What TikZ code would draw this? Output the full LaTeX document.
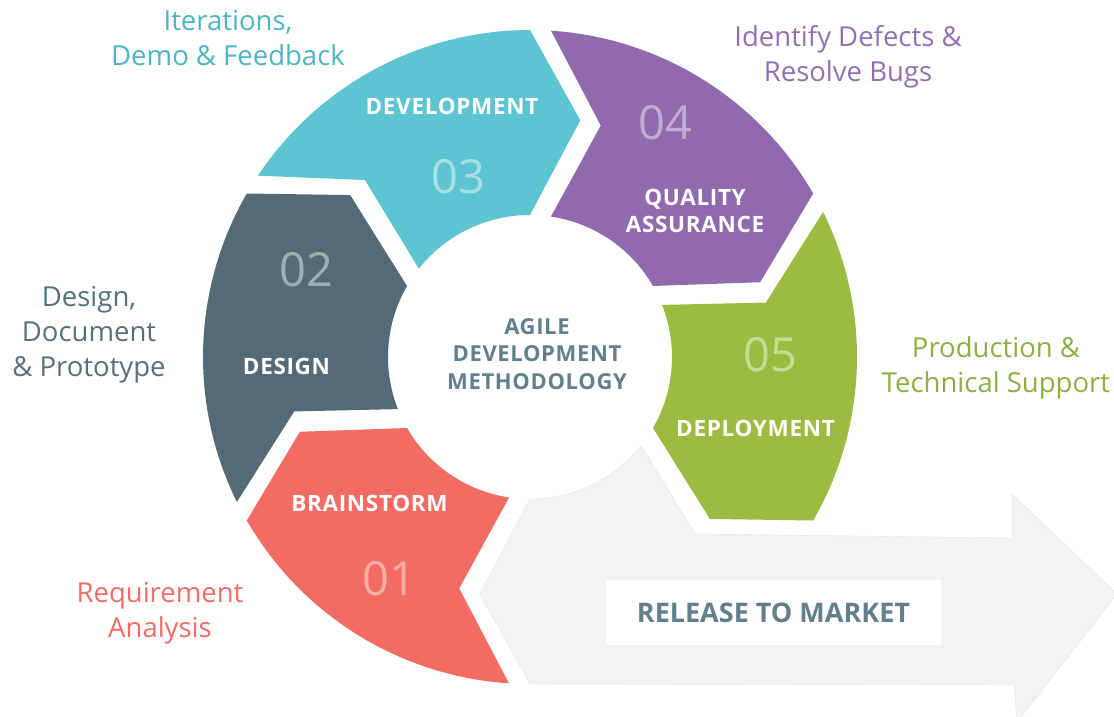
\documentclass[tikz,border=0pt]{standalone}
\usepackage{fontspec}
\setmainfont{Open Sans}
\newfontfamily\capsfont{Open Sans}[LetterSpace=3.0]
\definecolor{brainred}{HTML}{F26C63}
\definecolor{designslate}{HTML}{546B77}
\definecolor{devteal}{HTML}{5DC5D2}
\definecolor{qapurple}{HTML}{9169AD}
\definecolor{deploygreen}{HTML}{9DBB41}
\definecolor{releasegray}{HTML}{F3F3F3}
\definecolor{hubtext}{HTML}{627F8C}
\definecolor{redtext}{HTML}{F06E66}
\definecolor{slatetext}{HTML}{56707C}
\definecolor{tealtext}{HTML}{4DB5C4}
\definecolor{purpletext}{HTML}{9370AF}
\definecolor{greentext}{HTML}{8CB043}

\begin{document}
\begin{tikzpicture}
      [x=1pt, y=-1pt,
       steplabel/.style={
           text=white,
           font=\capsfont\bfseries\fontsize{22.5}{27}\selectfont,
           align=center, inner sep=0pt
         },
       stepnum/.style={
           text=white, text opacity=0.45,
           font=\fontsize{47}{50}\selectfont,
           inner sep=0pt
         },
       note/.style={
           font=\fontsize{27.5}{35}\selectfont,
           align=center, inner sep=0pt
         },
       ]
    \fill[white] (0,0) rectangle (1114,717);
    \clip (0,0) rectangle (1114,717);

    % ring of steps, angles counted from the hub centre
    \begin{scope}[shift={(530,357)}, y=1pt]
      \foreach \col/\b/\a in {brainred/270/210, designslate/210/150,
          devteal/150/90, qapurple/90/30, deploygreen/30/-30}{
        \fill[\col] (\a:327) arc[start angle=\a, end angle=\b-3.68, radius=327]
          -- (\b-17:242) -- (\b-8.47:142)
          arc[start angle=\b-8.47, end angle=\a, radius=142]
          -- (\a-12:242) -- cycle;
      }
      \filldraw[fill=releasegray, draw=black!10, line width=0.4pt]
        (270:327) -- (258:242) -- (270:142)
        arc[start angle=270, end angle=321.53, radius=142]
        -- (313:242) -- (482,-181) -- (482,-137) -- (587,-237)
        -- (487,-365) -- (484,-328) -- cycle;
    \end{scope}

    \node [fill=white, minimum width=335pt, minimum height=65pt,
           text=hubtext, font=\bfseries\fontsize{27}{30}\selectfont]
      (release) at (773.5,612.5) {RELEASE TO MARKET};

    \node [text=hubtext, align=center, inner sep=0pt,
           font=\capsfont\bfseries\fontsize{22}{27.5}\selectfont]
      (hub) at (537,354) {AGILE\\DEVELOPMENT\\METHODOLOGY};

    \node [steplabel] (brainstorm) at (369.5,503.5) {BRAINSTORM};
    \node [steplabel] (design) at (286.5,366.5) {DESIGN};
    \node [steplabel] (development) at (452,106.5) {DEVELOPMENT};
    \node [steplabel] (quality) at (695,210.5) {QUALITY\\ASSURANCE};
    \node [steplabel] (deployment) at (755.5,428.5) {DEPLOYMENT};

    \node [stepnum] (num1) at (389.5,578.5) {01};
    \node [stepnum] (num2) at (306.5,270) {02};
    \node [stepnum] (num3) at (458,177) {03};
    \node [stepnum] (num4) at (665,123) {04};
    \node [stepnum] (num5) at (770,355) {05};

    \node [note, text=redtext] (requirement) at (160,613) {Requirement\\Analysis};
    \node [note, text=slatetext] (prototype) at (89,335) {Design,\\Document\\\& Prototype};
    \node [note, text=tealtext] (feedback) at (228,38) {Iterations,\\Demo \& Feedback};
    \node [note, text=purpletext] (defects) at (848,57) {Identify Defects \&\\Resolve Bugs};
    \node [note, text=greentext] (support) at (996,368) {Production \&\\Technical Support};

  \end{tikzpicture}
\end{document}
